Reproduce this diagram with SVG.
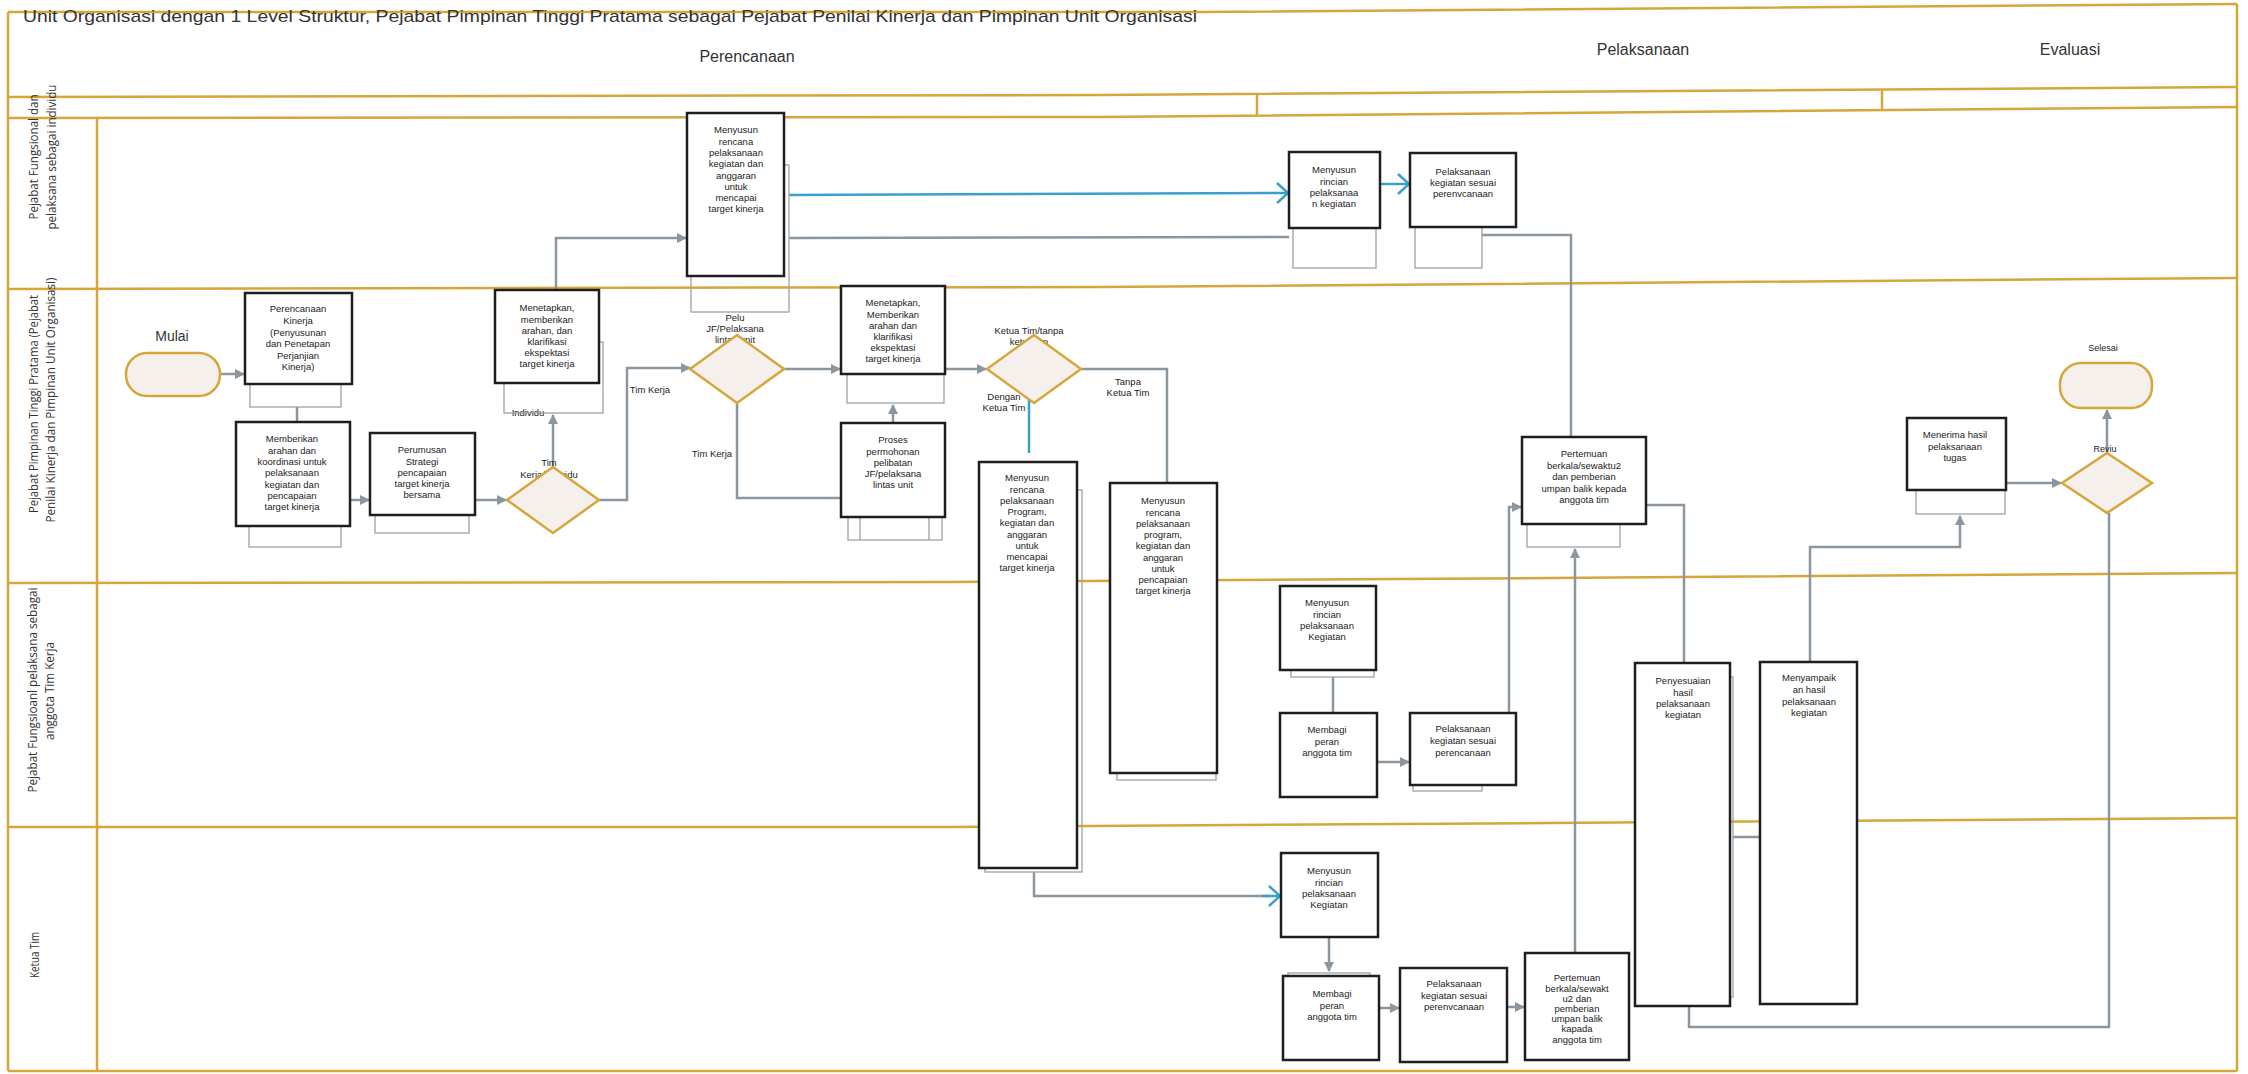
<svg xmlns="http://www.w3.org/2000/svg" width="2248" height="1074" viewBox="0 0 2248 1074">
<defs>
<style>
.lane{fill:none;stroke:#D6A63A;stroke-width:2.5}
.box{fill:#fff;stroke:#1e1e1e;stroke-width:2.5}
.sh{fill:none;stroke:#9aa2a8;stroke-width:1.3}
.dia{fill:#f5f0ec;stroke:#D6A63A;stroke-width:2.5}
.con{fill:none;stroke:#8b969e;stroke-width:2.5}
.blue{fill:none;stroke:#3a9fcf;stroke-width:2.5}
.t{font-family:"Liberation Sans",Arial,sans-serif;font-size:9.5px;fill:#222;text-anchor:middle}
.ll{font-family:"Open Sans","Liberation Sans",sans-serif;font-size:12px;fill:#333;text-anchor:middle}
.ph{font-family:"Liberation Sans",Arial,sans-serif;font-size:16px;fill:#333;text-anchor:middle}
</style>
<marker id="ag" viewBox="0 0 10 10" refX="9" refY="5" markerWidth="4" markerHeight="4" orient="auto"><path d="M0,0 L10,5 L0,10 z" fill="#8b969e"/></marker>
<marker id="ab" viewBox="0 0 14 22" refX="12" refY="11" markerWidth="14" markerHeight="22" markerUnits="userSpaceOnUse" orient="auto"><path d="M1,1 L12,11 L1,21" fill="none" stroke="#3a9fcf" stroke-width="2.5"/></marker>
</defs>
<rect width="2248" height="1074" fill="#fff"/>

<g id="frame">
<polyline class="lane" points="8,12 1200,12 2237,4"/>
<polyline class="lane" points="8,97 1100,95 2237,87"/>
<polyline class="lane" points="8,118 1100,117 2237,107"/>
<polyline class="lane" points="8,289 1100,287 2237,278"/>
<polyline class="lane" points="8,583 950,582 1550,578 2237,573"/>
<polyline class="lane" points="8,827 950,827 1550,823 2237,818"/>
<line class="lane" x1="8" y1="1071" x2="2237" y2="1071"/>
<line class="lane" x1="8" y1="12" x2="8" y2="1071"/>
<line class="lane" x1="2237" y1="4" x2="2237" y2="1071"/>
<line class="lane" x1="97" y1="118" x2="97" y2="1071"/>
<line class="lane" x1="1257" y1="95" x2="1257" y2="116"/>
<line class="lane" x1="1882" y1="91" x2="1882" y2="111"/>
<text x="23" y="22" font-family="Liberation Sans, Arial, sans-serif" font-size="17" fill="#333" textLength="1174" lengthAdjust="spacingAndGlyphs">Unit Organisasi dengan 1 Level Struktur, Pejabat Pimpinan Tinggi Pratama sebagai Pejabat Penilai Kinerja dan Pimpinan Unit Organisasi</text>
<text class="ph" x="747" y="62">Perencanaan</text>
<text class="ph" x="1643" y="55">Pelaksanaan</text>
<text class="ph" x="2070" y="55">Evaluasi</text>
<text class="ll" transform="translate(38,157) rotate(-90)" textLength="125" lengthAdjust="spacingAndGlyphs">Pejabat Fungsional dan</text>
<text class="ll" transform="translate(56,157) rotate(-90)" textLength="145" lengthAdjust="spacingAndGlyphs">pelaksana sebagai individu</text>
<text class="ll" transform="translate(38,404) rotate(-90)" textLength="218" lengthAdjust="spacingAndGlyphs">Pejabat Pimpinan Tinggi Pratama (Pejabat</text>
<text class="ll" transform="translate(55,400) rotate(-90)" textLength="245" lengthAdjust="spacingAndGlyphs">Penilai Kinerja dan Pimpinan Unit Organisasi)</text>
<text class="ll" transform="translate(37,690) rotate(-90)" textLength="205" lengthAdjust="spacingAndGlyphs">Pejabat Fungsioanl pelaksana sebagai</text>
<text class="ll" transform="translate(54,691) rotate(-90)" textLength="98" lengthAdjust="spacingAndGlyphs">anggota Tim Kerja</text>
<text class="ll" transform="translate(39,955) rotate(-90)" textLength="46" lengthAdjust="spacingAndGlyphs">Ketua Tim</text>
</g>

<g id="connectors">
<line class="con" x1="220" y1="374" x2="244" y2="374" marker-end="url(#ag)"/>
<line class="con" x1="297" y1="407" x2="297" y2="422"/>
<line class="con" x1="350" y1="500" x2="369" y2="500" marker-end="url(#ag)"/>
<line class="con" x1="475" y1="500" x2="506" y2="500" marker-end="url(#ag)"/>
<line class="con" x1="553" y1="467" x2="553" y2="415" marker-end="url(#ag)"/>
<polyline class="con" points="556,290 556,238 686,238" marker-end="url(#ag)"/>
<polyline class="con" points="599,500 627,500 627,368 690,368" marker-end="url(#ag)"/>
<line class="con" x1="784" y1="369" x2="840" y2="369" marker-end="url(#ag)"/>
<polyline class="con" points="737,403 737,498 841,498"/>
<line class="con" x1="893" y1="423" x2="893" y2="405" marker-end="url(#ag)"/>
<line class="con" x1="945" y1="369" x2="986" y2="369" marker-end="url(#ag)"/>
<line class="blue" x1="1029" y1="367" x2="1029" y2="453"/>
<polyline class="con" points="1081,369 1167,369 1167,483"/>
<line class="con" x1="789" y1="238" x2="1289" y2="237"/>
<line class="blue" x1="789" y1="195" x2="1288" y2="193" marker-end="url(#ab)"/>
<line class="blue" x1="1380" y1="184" x2="1409" y2="184" marker-end="url(#ab)"/>
<polyline class="con" points="1482,235 1571,235 1571,437"/>
<polyline class="con" points="1509,713 1509,507 1521,507" marker-end="url(#ag)"/>
<polyline class="con" points="1646,505 1684,505 1684,663"/>
<line class="con" x1="1575" y1="953" x2="1575" y2="549" marker-end="url(#ag)"/>
<polyline class="con" points="1810,662 1810,547 1960,547 1960,516" marker-end="url(#ag)"/>
<line class="con" x1="2006" y1="483" x2="2061" y2="483" marker-end="url(#ag)"/>
<line class="con" x1="2107" y1="453" x2="2107" y2="410" marker-end="url(#ag)"/>
<polyline class="con" points="2109,513 2109,1027 1689,1027 1689,1006"/>
<line class="con" x1="1733" y1="837" x2="1760" y2="837"/>
<line class="con" x1="1333" y1="677" x2="1333" y2="713"/>
<line class="con" x1="1377" y1="762" x2="1409" y2="762" marker-end="url(#ag)"/>
<polyline class="con" points="1034,872 1034,896 1270,896"/>
<line class="blue" x1="1262" y1="896" x2="1280" y2="896" marker-end="url(#ab)"/>
<line class="con" x1="1329" y1="937" x2="1329" y2="971" marker-end="url(#ag)"/>
<line class="con" x1="1379" y1="1008" x2="1399" y2="1008" marker-end="url(#ag)"/>
<line class="con" x1="1507" y1="1007" x2="1524" y2="1007" marker-end="url(#ag)"/>
<g class="t">
<text x="528" y="416">Individu</text>
<text x="549" y="466">Tim<tspan x="549" dy="11.5">Kerja/Individu</tspan></text>
<text x="650" y="393">Tim Kerja</text>
<text x="735" y="321">Pelu<tspan x="735" dy="11.2">JF/Pelaksana</tspan><tspan x="735" dy="11.2">lintas unit</tspan></text>
<text x="712" y="457">Tim Kerja</text>
<text x="1029" y="334">Ketua Tim/tanpa<tspan x="1029" dy="11">ketua tim</tspan></text>
<text x="1004" y="400">Dengan<tspan x="1004" dy="10.5">Ketua Tim</tspan></text>
<text x="1128" y="385">Tanpa<tspan x="1128" dy="11">Ketua Tim</tspan></text>
<text x="2105" y="452" font-size="9">Reviu</text>
<text x="2103" y="351" font-size="9">Selesai</text>
</g>
</g>

<g id="start">
<text x="172" y="341" font-family="Liberation Sans, Arial, sans-serif" font-size="14" fill="#333" text-anchor="middle">Mulai</text>
<rect class="dia" x="126" y="353" width="94" height="43" rx="21"/>
</g>
<g id="end">
<rect class="dia" x="2060" y="363" width="92" height="45" rx="21"/>
</g>

<g id="b1"><rect class="sh" x="250" y="300" width="91" height="107"/><rect class="box" x="245" y="293" width="107" height="91"/>
<text class="t" x="298" y="312.3">Perencanaan<tspan x="298" dy="11.6">Kinerja</tspan><tspan x="298" dy="11.6">(Penyusunan</tspan><tspan x="298" dy="11.6">dan Penetapan</tspan><tspan x="298" dy="11.6">Perjanjian</tspan><tspan x="298" dy="11.6">Kinerja)</tspan></text></g>

<g id="b2"><rect class="sh" x="249" y="430" width="92" height="117"/><rect class="box" x="236" y="422" width="114" height="104"/>
<text class="t" x="292" y="442.3">Memberikan<tspan x="292" dy="11.33">arahan dan</tspan><tspan x="292" dy="11.33">koordinasi untuk</tspan><tspan x="292" dy="11.33">pelaksanaan</tspan><tspan x="292" dy="11.33">kegiatan dan</tspan><tspan x="292" dy="11.33">pencapaian</tspan><tspan x="292" dy="11.33">target kinerja</tspan></text></g>

<g id="b3"><rect class="sh" x="375" y="440" width="94" height="93"/><rect class="box" x="370" y="433" width="105" height="82"/>
<text class="t" x="422" y="453.3">Perumusan<tspan x="422" dy="11.25">Strategi</tspan><tspan x="422" dy="11.25">pencapaian</tspan><tspan x="422" dy="11.25">target kinerja</tspan><tspan x="422" dy="11.25">bersama</tspan></text></g>

<g id="d1"><polygon class="dia" points="553,467 599,500 553,533 507,500"/></g>

<g id="b4"><rect class="sh" x="504" y="342" width="99" height="71"/><rect class="box" x="495" y="290" width="104" height="93"/>
<text class="t" x="547" y="311.3">Menetapkan,<tspan x="547" dy="11.2">memberikan</tspan><tspan x="547" dy="11.2">arahan, dan</tspan><tspan x="547" dy="11.2">klarifikasi</tspan><tspan x="547" dy="11.2">ekspektasi</tspan><tspan x="547" dy="11.2">target kinerja</tspan></text></g>

<g id="n1"><rect class="sh" x="691" y="165" width="98" height="147"/><rect class="box" x="687" y="113" width="97" height="163"/>
<text class="t" x="736" y="133.3">Menyusun<tspan x="736" dy="11.3">rencana</tspan><tspan x="736" dy="11.3">pelaksanaan</tspan><tspan x="736" dy="11.3">kegiatan dan</tspan><tspan x="736" dy="11.3">anggaran</tspan><tspan x="736" dy="11.3">untuk</tspan><tspan x="736" dy="11.3">mencapai</tspan><tspan x="736" dy="11.3">target kinerja</tspan></text></g>

<g id="d2"><polygon class="dia" points="737,335 784,369 737,403 690,369"/></g>

<g id="b5"><rect class="sh" x="847" y="300" width="97" height="103"/><rect class="box" x="841" y="286" width="104" height="88"/>
<text class="t" x="893" y="306.3">Menetapkan,<tspan x="893" dy="11.2">Memberikan</tspan><tspan x="893" dy="11.2">arahan dan</tspan><tspan x="893" dy="11.2">klarifikasi</tspan><tspan x="893" dy="11.2">ekspektasi</tspan><tspan x="893" dy="11.2">target kinerja</tspan></text></g>

<g id="b6"><rect class="sh" x="848" y="430" width="94" height="110"/><line class="sh" x1="860" y1="517" x2="860" y2="540"/><line class="sh" x1="929" y1="517" x2="929" y2="540"/><rect class="box" x="841" y="423" width="104" height="94"/>
<text class="t" x="893" y="443.3">Proses<tspan x="893" dy="11.25">permohonan</tspan><tspan x="893" dy="11.25">pelibatan</tspan><tspan x="893" dy="11.25">JF/pelaksana</tspan><tspan x="893" dy="11.25">lintas unit</tspan></text></g>

<g id="d3"><polygon class="dia" points="1034,335 1081,369 1034,403 987,369"/></g>

<g id="b7"><rect class="sh" x="985" y="490" width="97" height="382"/><rect class="box" x="979" y="462" width="98" height="406"/>
<text class="t" x="1027" y="481.3">Menyusun<tspan x="1027" dy="11.25">rencana</tspan><tspan x="1027" dy="11.25">pelaksanaan</tspan><tspan x="1027" dy="11.25">Program,</tspan><tspan x="1027" dy="11.25">kegiatan dan</tspan><tspan x="1027" dy="11.25">anggaran</tspan><tspan x="1027" dy="11.25">untuk</tspan><tspan x="1027" dy="11.25">mencapai</tspan><tspan x="1027" dy="11.25">target kinerja</tspan></text></g>

<g id="b8"><rect class="sh" x="1117" y="500" width="99" height="280"/><rect class="box" x="1110" y="483" width="107" height="290"/>
<text class="t" x="1163" y="504.3">Menyusun<tspan x="1163" dy="11.25">rencana</tspan><tspan x="1163" dy="11.25">pelaksanaan</tspan><tspan x="1163" dy="11.25">program,</tspan><tspan x="1163" dy="11.25">kegiatan dan</tspan><tspan x="1163" dy="11.25">anggaran</tspan><tspan x="1163" dy="11.25">untuk</tspan><tspan x="1163" dy="11.25">pencapaian</tspan><tspan x="1163" dy="11.25">target kinerja</tspan></text></g>

<g id="b11"><rect class="sh" x="1293" y="160" width="83" height="108"/><rect class="box" x="1289" y="152" width="91" height="76"/>
<text class="t" x="1334" y="173.3">Menyusun<tspan x="1334" dy="11.3">rincian</tspan><tspan x="1334" dy="11.3">pelaksanaa</tspan><tspan x="1334" dy="11.3">n kegiatan</tspan></text></g>

<g id="b12"><rect class="sh" x="1415" y="160" width="67" height="108"/><rect class="box" x="1410" y="153" width="106" height="74"/>
<text class="t" x="1463" y="175.3">Pelaksanaan<tspan x="1463" dy="10.8">kegiatan sesuai</tspan><tspan x="1463" dy="10.8">perenvcanaan</tspan></text></g>

<g id="b13"><rect class="sh" x="1527" y="450" width="93" height="97"/><rect class="box" x="1522" y="437" width="124" height="87"/>
<text class="t" x="1584" y="457.3">Pertemuan<tspan x="1584" dy="11.5">berkala/sewaktu2</tspan><tspan x="1584" dy="11.5">dan pemberian</tspan><tspan x="1584" dy="11.5">umpan balik kepada</tspan><tspan x="1584" dy="11.5">anggota tim</tspan></text></g>

<g id="b15"><rect class="sh" x="1916" y="430" width="89" height="84"/><rect class="box" x="1907" y="418" width="99" height="72"/>
<text class="t" x="1955" y="438.3">Menerima hasil<tspan x="1955" dy="11.5">pelaksanaan</tspan><tspan x="1955" dy="11.5">tugas</tspan></text></g>

<g id="d4"><polygon class="dia" points="2107,453 2152,483 2107,513 2062,483"/></g>

<g id="b16"><rect class="sh" x="1291" y="600" width="83" height="77"/><rect class="box" x="1280" y="586" width="96" height="84"/>
<text class="t" x="1327" y="606.3">Menyusun<tspan x="1327" dy="11.3">rincian</tspan><tspan x="1327" dy="11.3">pelaksanaan</tspan><tspan x="1327" dy="11.3">Kegiatan</tspan></text></g>

<g id="b17"><rect class="box" x="1280" y="713" width="97" height="84"/>
<text class="t" x="1327" y="733.3">Membagi<tspan x="1327" dy="11.5">peran</tspan><tspan x="1327" dy="11.5">anggota tim</tspan></text></g>

<g id="b18"><rect class="sh" x="1413" y="720" width="69" height="71"/><rect class="box" x="1410" y="713" width="106" height="72"/>
<text class="t" x="1463" y="732.3">Pelaksanaan<tspan x="1463" dy="12">kegiatan sesuai</tspan><tspan x="1463" dy="12">perencanaan</tspan></text></g>

<g id="b14"><rect class="sh" x="1640" y="677" width="93" height="320"/><rect class="box" x="1635" y="663" width="95" height="343"/>
<text class="t" x="1683" y="684.3">Penyesuaian<tspan x="1683" dy="11.3">hasil</tspan><tspan x="1683" dy="11.3">pelaksanaan</tspan><tspan x="1683" dy="11.3">kegiatan</tspan></text></g>

<g id="b19"><rect class="box" x="1760" y="662" width="97" height="342"/>
<text class="t" x="1809" y="681.3">Menyampaik<tspan x="1809" dy="11.7">an hasil</tspan><tspan x="1809" dy="11.7">pelaksanaan</tspan><tspan x="1809" dy="11.7">kegiatan</tspan></text></g>

<g id="b20"><rect class="box" x="1281" y="853" width="97" height="84"/>
<text class="t" x="1329" y="874.3">Menyusun<tspan x="1329" dy="11.3">rincian</tspan><tspan x="1329" dy="11.3">pelaksanaan</tspan><tspan x="1329" dy="11.3">Kegiatan</tspan></text></g>

<g id="b21"><rect class="sh" x="1288" y="973" width="82" height="80"/><rect class="box" x="1283" y="976" width="96" height="84"/>
<text class="t" x="1332" y="997.3">Membagi<tspan x="1332" dy="11.5">peran</tspan><tspan x="1332" dy="11.5">anggota tim</tspan></text></g>

<g id="b22"><rect class="box" x="1400" y="968" width="107" height="94"/>
<text class="t" x="1454" y="987.3">Pelaksanaan<tspan x="1454" dy="11.5">kegiatan sesuai</tspan><tspan x="1454" dy="11.5">perenvcanaan</tspan></text></g>

<g id="b23"><rect class="box" x="1525" y="953" width="104" height="107"/>
<text class="t" x="1577" y="981.3">Pertemuan<tspan x="1577" dy="10.2">berkala/sewakt</tspan><tspan x="1577" dy="10.2">u2 dan</tspan><tspan x="1577" dy="10.2">pemberian</tspan><tspan x="1577" dy="10.2">umpan balik</tspan><tspan x="1577" dy="10.2">kapada</tspan><tspan x="1577" dy="10.2">anggota tim</tspan></text></g>
</svg>
